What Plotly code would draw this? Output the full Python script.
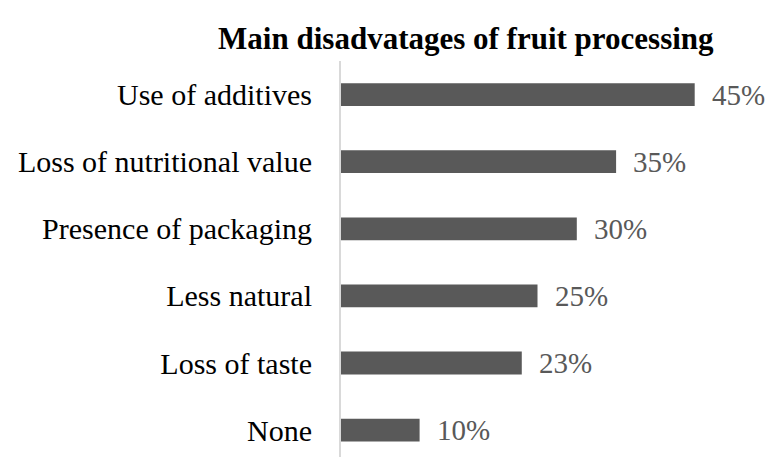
import plotly.graph_objects as go

categories = ["Use of additives", "Loss of nutritional value", "Presence of packaging",
              "Less natural", "Loss of taste", "None"]
values = [45, 35, 30, 25, 23, 10]
value_labels = ["45%", "35%", "30%", "25%", "23%", "10%"]

cats_rev = categories[::-1]
vals_rev = values[::-1]
labs_rev = value_labels[::-1]

FONT = "Liberation Serif"

fig = go.Figure()
fig.add_trace(go.Bar(
    x=vals_rev, y=cats_rev, orientation="h",
    marker=dict(color="#595959", line=dict(width=0)),
    width=0.34,
    hoverinfo="skip",
))

for c, v, t in zip(cats_rev, vals_rev, labs_rev):
    fig.add_annotation(x=v, y=c, text=t, showarrow=False, xanchor="left",
                       xshift=15, font=dict(family=FONT, size=29, color="#595959"))

fig.update_layout(
    width=770, height=457,
    paper_bgcolor="white", plot_bgcolor="white",
    margin=dict(l=341, r=36, t=61, b=0),
    showlegend=False,
    title=dict(text="<b>Main disadvatages of fruit processing</b>",
               x=0.605, xanchor="center", y=0.917, yanchor="middle",
               font=dict(family=FONT, size=31, color="black")),
    xaxis=dict(range=[0, 50], visible=False),
    yaxis=dict(range=[-0.4, 5.5], showgrid=False, zeroline=False,
               showline=True, linecolor="#d9d9d9", linewidth=2,
               ticks="", ticklabelstandoff=21,
               tickfont=dict(family=FONT, size=30, color="black")),
)

fig.write_html("out.html",
               config={"displayModeBar": False},
               post_script="document.body.style.margin='0';document.body.style.overflow='hidden';")
